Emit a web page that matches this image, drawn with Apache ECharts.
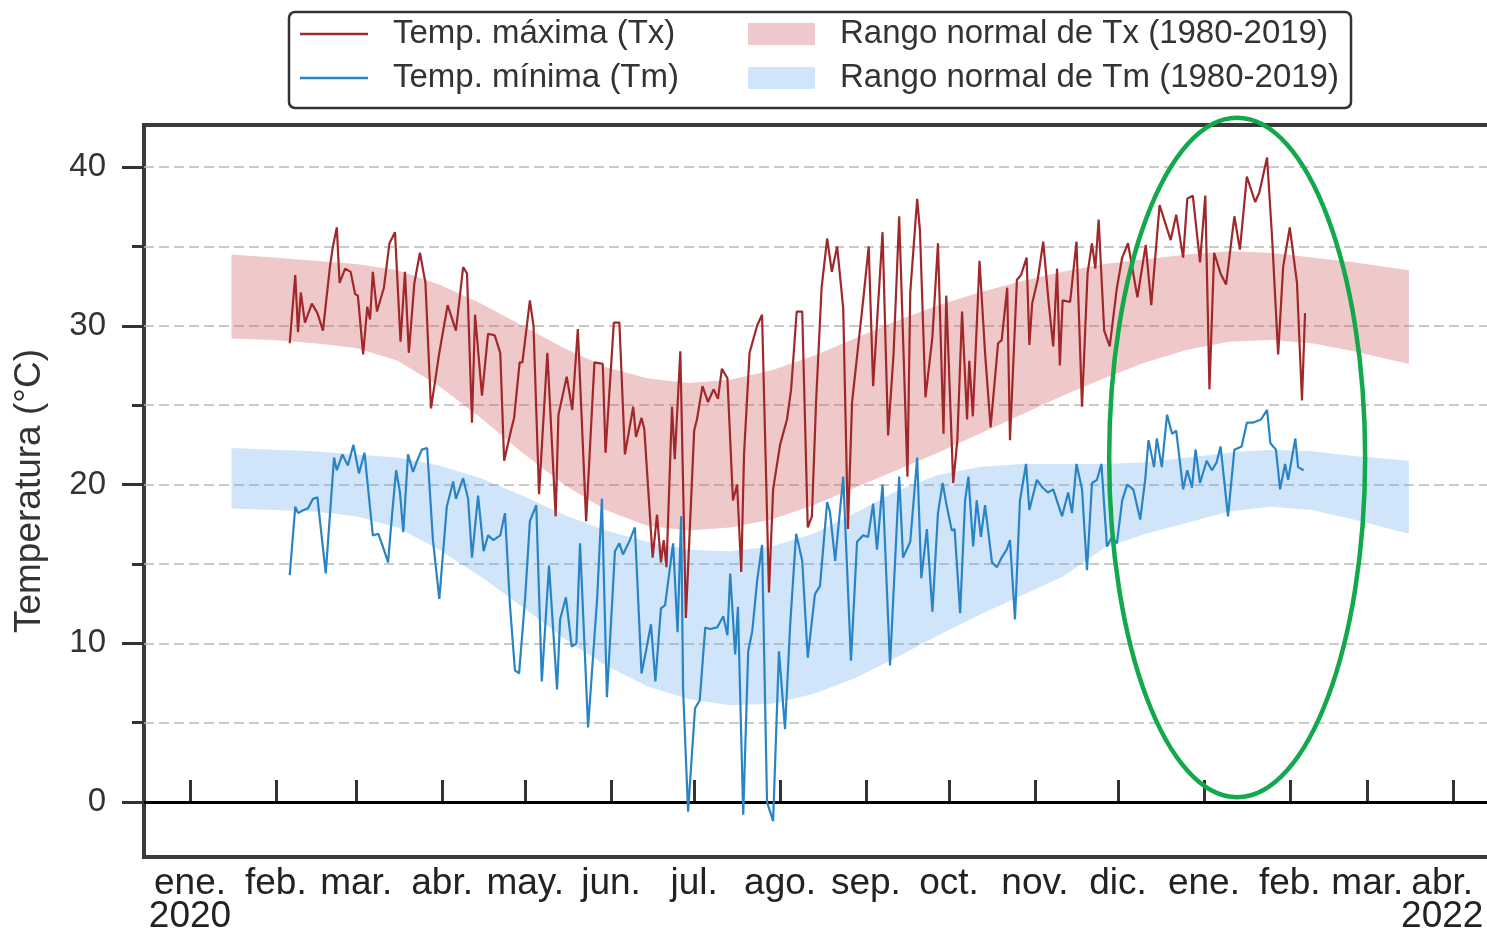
<!DOCTYPE html>
<html>
<head>
<meta charset="utf-8">
<script src="https://cdn.jsdelivr.net/npm/echarts@6/dist/echarts.min.js"></script>
<style>
html, body { margin: 0; padding: 0; background: #fff; }
#chart { width: 1487px; height: 928px; }
</style>
</head>
<body>
<div id="chart"></div>
<script>
var DAY = 86400000;
var T0 = Date.UTC(2020, 0, 1);   // day 0 of every day offset below

var monthNames = ['ene.', 'feb.', 'mar.', 'abr.', 'may.', 'jun.', 'jul.', 'ago.', 'sep.', 'oct.', 'nov.', 'dic.'];
var firstYear = '2020';
var lastYear = '2022';

// daily max temperature: [day offset, °C]
var txPoints = [
  [36,28.9],[38,33.2],[39,29.6],[40,32.1],[41.5,30.2],[44,31.4],[46,30.8],[48,29.7],[50.5,33.7],[51.6,35.0],
  [53,36.2],[54,32.7],[56,33.6],[58,33.4],[59.6,32.0],[60.6,31.9],[62.5,28.2],[64,31.2],[65,30.4],[66,33.4],
  [67.5,30.9],[70,32.4],[72,35.2],[74,35.9],[76,29.0],[77.6,33.4],[79,28.3],[81,32.7],[83,34.6],[85,32.7],
  [87,24.8],[90,28.3],[93,31.3],[96,29.7],[98.6,33.7],[100,33.3],[101.8,23.9],[102.9,30.7],[105.4,25.6],[107.6,29.5],
  [110,29.4],[112,28.3],[113.4,21.5],[116,23.5],[117,24.2],[119,27.7],[120,27.7],[122.7,31.6],[124,30.0],[126,19.4],
  [129,28.3],[132,18.0],[133,24.4],[136,26.8],[138,24.7],[140,29.8],[143,17.7],[146,27.7],[149,27.6],[150,22.0],
  [153,30.2],[155,30.2],[157,21.9],[160,24.9],[161,23.0],[163,24.2],[164,23.5],[167,15.4],[168.6,18.1],[170,15.1],
  [171,16.5],[172,14.8],[174,24.9],[175,21.6],[177,28.4],[179,11.6],[182,23.4],[183,24.1],[185,26.2],[187,25.2],
  [189,26.0],[190.6,25.4],[192,27.3],[194,26.7],[196,19.0],[197.5,20.0],[199,14.5],[200,21.9],[202,28.3],[204.7,30.0],
  [206.5,30.7],[209,13.2],[210.5,19.7],[213,22.5],[215.5,24.1],[217,26.0],[219,30.9],[221,30.9],[223,17.3],[224.5,18.0],
  [226,25.2],[228,32.4],[230,35.5],[231.7,33.4],[233.6,35.0],[235.8,31.1],[237.5,17.2],[239,25.2],[243,31.6],[245,35.0],
  [246.6,26.2],[250,35.9],[252,23.1],[254,28.3],[256,36.9],[259,20.5],[260,32.1],[262.5,38.0],[263.5,36.0],[265.5,25.5],
  [268,29.3],[270,35.2],[272,23.2],[273,31.9],[275.5,20.1],[277,22.8],[278.7,30.9],[280.5,24.1],[281.3,27.8],[282.6,24.3],
  [285,34.1],[287,28.3],[289,23.6],[291.7,28.9],[293,29.1],[295,32.4],[296,22.8],[298.5,32.9],[300,33.2],[302,34.3],
  [303,28.8],[304,31.4],[306,32.9],[308,35.3],[310,31.4],[311.6,28.7],[313,33.6],[314,27.5],[315,31.6],[317.7,31.5],
  [320,35.3],[322,24.9],[324,33.3],[325.6,35.2],[326.8,33.6],[328,36.7],[330,29.7],[332,28.7],[334.6,32.4],[336.5,34.3],
  [338.6,35.2],[342,31.8],[345,35.1],[347,31.3],[350,37.6],[354,35.4],[356,37.0],[358.5,34.3],[360,38.0],[362,38.2],
  [364.6,34.0],[366.5,38.2],[368,26.0],[369.7,34.6],[372,33.3],[374,32.6],[377,36.9],[379,34.8],[381.5,39.4],[384.5,37.8],
  [386,38.4],[388.8,40.6],[390.6,35.6],[392.8,28.2],[394.6,33.7],[397,36.2],[399.6,32.7],[401.4,25.3],[402.5,30.8]
];

// daily min temperature: [day offset, °C]
var tmPoints = [
  [36,14.3],[38,18.6],[39,18.2],[41,18.4],[42.6,18.5],[44.4,19.1],[46,19.2],[49,14.4],[52,21.7],[53,20.9],
  [55,21.9],[57,21.2],[59,22.5],[61,20.7],[63,22.0],[66,16.8],[68,16.9],[70,15.9],[71.5,15.1],[73,18.2],
  [74.4,20.9],[75.8,19.5],[77,17.0],[78.7,21.9],[80.5,20.8],[82,21.5],[83.7,22.2],[85.6,22.3],[87.7,16.5],[90,12.8],
  [92.7,18.6],[95,20.2],[96,19.1],[98.6,20.4],[100.4,19.1],[101.8,15.4],[104,19.3],[106,15.8],[107.6,16.8],[109.5,16.5],
  [112,16.8],[113.7,18.2],[115.5,12.4],[117.3,8.3],[118.8,8.1],[121,12.9],[122.7,17.7],[125,18.7],[127,7.6],[129.6,14.9],
  [132.5,7.1],[133.6,11.5],[135.7,12.9],[137.8,9.8],[139.5,10.0],[140.8,16.3],[143.7,4.7],[147,12.9],[148.7,19.1],[150.5,6.6],
  [153.4,15.8],[155,16.3],[156.3,15.6],[158.8,16.5],[160.6,17.3],[163,8.1],[164.6,9.5],[166.4,11.2],[168,7.6],[170,12.2],
  [171.5,12.4],[174.4,16.3],[176,10.7],[177.3,18.0],[178,7.1],[179.8,-0.6],[182.3,5.9],[184,6.4],[186,11.0],[187.7,10.9],
  [190.3,11.0],[192.5,11.7],[194,10.5],[195,14.4],[196.8,9.3],[197.8,12.3],[199.7,-0.8],[201.5,9.5],[203,10.8],[204.7,13.9],
  [206.5,16.2],[208.3,0.0],[210.5,-1.2],[212.6,9.5],[214.8,4.6],[216.6,11.0],[218.8,16.9],[221,15.2],[223,9.1],[225.6,13.1],
  [227.4,13.6],[230,18.9],[231,18.3],[232.9,15.2],[235.8,20.5],[238.6,8.9],[240.8,16.4],[243,16.8],[244.8,16.7],[246.6,18.8],
  [248,15.9],[250,20.0],[252.7,8.6],[256,20.5],[257.4,15.4],[260,16.4],[262.5,21.7],[264,14.1],[266,17.2],[268,12.0],
  [270,18.2],[271.7,20.1],[273,18.8],[275,17.1],[276,17.2],[278,11.9],[279.8,19.0],[281,20.5],[282.7,16.1],[284,19.0],
  [285.5,16.7],[287,18.7],[289.5,15.1],[291.3,14.8],[293,15.4],[294.8,15.9],[296,16.5],[297.8,11.5],[299.6,19.0],[301.8,21.3],
  [303,18.4],[305.7,20.3],[307.8,19.8],[309.7,19.5],[311.6,19.7],[314.8,18.0],[317,19.5],[318.4,18.2],[320,21.3],[322,19.7],
  [323.8,14.6],[325.6,20.1],[327.4,20.3],[329,21.3],[331,16.1],[332.8,16.7],[334.6,16.3],[336.5,19.0],[338.3,20.0],[340.5,19.7],
  [343,17.8],[344.8,20.3],[346,22.8],[348,21.1],[349,22.9],[350.8,21.1],[352.7,24.4],[354.5,23.2],[356,23.4],[358.5,19.7],
  [360,20.9],[361.7,19.8],[363,22.2],[364.6,20.1],[367,21.5],[368.9,20.9],[370.6,21.4],[372,22.4],[374.7,18.0],[377,22.2],
  [379.6,22.4],[381.5,23.9],[383.6,23.9],[386.6,24.1],[388.8,24.7],[390,22.6],[392,22.2],[393.5,19.7],[395.3,21.3],[396.4,20.3],
  [399,22.9],[400,21.1],[402,20.9]
];

// normal ranges 1980-2019
var normDays = [15, 30, 45, 60, 75, 90, 105, 120, 135, 150, 165, 180, 195, 210, 225, 240, 255, 270, 285, 300, 315, 330, 345, 360, 375, 390, 405, 420, 440];
var txNormLo = [29.2, 29.1, 28.9, 28.6, 27.8, 26.2, 24.2, 22.0, 20.0, 18.4, 17.4, 17.1, 17.3, 17.8, 18.7, 19.8, 20.9, 22.0, 23.2, 24.4, 25.6, 26.7, 27.7, 28.5, 29.0, 29.1, 28.9, 28.4, 27.6];
var txNormHi = [34.5, 34.3, 34.1, 33.9, 33.5, 32.6, 31.4, 30.0, 28.6, 27.4, 26.7, 26.4, 26.6, 27.2, 28.1, 29.2, 30.3, 31.3, 32.1, 32.8, 33.4, 33.9, 34.2, 34.5, 34.7, 34.6, 34.3, 34.0, 33.5];
var tmNormLo = [18.5, 18.4, 18.3, 18.0, 17.3, 15.9, 14.2, 12.3, 10.3, 8.6, 7.3, 6.5, 6.1, 6.2, 6.8, 7.8, 9.1, 10.5, 11.8, 13.0, 14.2, 16.0, 16.9, 17.6, 18.3, 18.6, 18.4, 17.8, 16.9];
var tmNormHi = [22.3, 22.2, 22.1, 21.9, 21.7, 21.2, 20.4, 19.3, 18.1, 17.1, 16.4, 15.9, 15.8, 16.1, 16.9, 18.2, 19.6, 20.6, 21.1, 21.3, 21.3, 21.3, 21.4, 21.7, 22.0, 22.2, 22.1, 21.8, 21.5];

var yLabelTicks = [0, 10, 20, 30, 40];
var yMinorTicks = [5, 15, 25, 35];
var gridValues = [5, 10, 15, 20, 25, 30, 35, 40];

// highlighted period: centre day, centre °C, half-width in days, half-height in °C
var ellipseSpec = [378, 21.7, 46.2, 21.4];

function toTime(d) { return T0 + d * DAY; }
function pts(list) { return list.map(function (p) { return [toTime(p[0]), p[1]]; }); }
function band(lo) { return normDays.map(function (d, i) { return [toTime(d), lo[i]]; }); }
function bandDiff(lo, hi) { return normDays.map(function (d, i) { return [toTime(d), +(hi[i] - lo[i]).toFixed(2)]; }); }

var txColor = '#a0282a';
var tmColor = '#2984c6';
var txBandColor = 'rgba(205,92,92,0.33)';
var tmBandColor = 'rgba(100,170,235,0.3)';
var FONT = '"Liberation Sans", Arial, sans-serif';

var dom = document.getElementById('chart');
var myChart = echarts.init(dom);

var option = {
  animation: false,
  useUTC: true,
  backgroundColor: '#fff',
  grid: {
    left: 144, right: -10, top: 125, bottom: 71,
    outerBoundsMode: 'none',
    containLabel: false,
    show: true, borderColor: '#3a3a3a', borderWidth: 4
  },
  legend: [
    {
      orient: 'vertical', left: 300, top: 16, padding: 0, itemGap: 8,
      icon: 'rect', itemWidth: 68, itemHeight: 2.5,
      textStyle: { fontFamily: FONT, fontSize: 33, lineHeight: 36, color: '#333', padding: [0, 0, 0, 20] },
      data: ['Temp. máxima (Tx)', 'Temp. mínima (Tm)']
    },
    {
      orient: 'vertical', left: 748, top: 16, padding: 0, itemGap: 8,
      icon: 'rect', itemWidth: 67, itemHeight: 22,
      textStyle: { fontFamily: FONT, fontSize: 33, lineHeight: 36, color: '#333', padding: [0, 0, 0, 20] },
      data: ['Rango normal de Tx (1980-2019)', 'Rango normal de Tm (1980-2019)']
    }
  ],
  graphic: [
    {
      id: 'legendBox', type: 'rect', z: 10, silent: true,
      shape: { x: 289, y: 12, width: 1062, height: 96, r: 6 },
      style: { fill: 'none', stroke: '#333', lineWidth: 2.5 }
    }
  ],
  xAxis: {
    type: 'time',
    min: toTime(-16.6),
    max: toTime(471.8),
    splitNumber: 16,
    minInterval: 28 * DAY,
    maxInterval: 31 * DAY,
    axisLine: { show: false },
    axisTick: { show: true, inside: true, length: 22, lineStyle: { color: '#333', width: 3 } },
    splitLine: { show: false },
    axisLabel: {
      hideOverlap: false,
      margin: 10,
      fontFamily: FONT, fontSize: 37, lineHeight: 33, color: '#222',
      rich: {
        last: { fontFamily: FONT, fontSize: 37, lineHeight: 33, color: '#222', padding: [0, 22, 0, 0] }
      },
      formatter: function (value) {
        var d = new Date(value);
        var m = d.getUTCMonth(), y = d.getUTCFullYear();
        var s = monthNames[m];
        if (y === 2020 && m === 0) s += '\n' + firstYear;
        if (y === 2021 && m === 3) s = '{last|' + s + '}\n{last|' + lastYear + '}';
        return s;
      }
    }
  },
  yAxis: [
    {
      type: 'value', min: -3.46, max: 42.65,
      name: 'Temperatura (°C)', nameLocation: 'middle', nameRotate: 90, nameGap: 96,
      nameTextStyle: { fontFamily: FONT, fontSize: 37, color: '#333' },
      axisLine: { show: false },
      axisTick: { show: true, length: 22, customValues: yLabelTicks, lineStyle: { color: '#333', width: 3 } },
      axisLabel: { customValues: yLabelTicks, margin: 38, fontFamily: FONT, fontSize: 33, color: '#333' },
      splitLine: { show: false }
    },
    {
      type: 'value', min: -3.46, max: 42.65, position: 'left',
      axisLine: { show: false },
      axisTick: { show: true, length: 12, customValues: yMinorTicks, lineStyle: { color: '#333', width: 3 } },
      axisLabel: { show: false },
      splitLine: { show: false }
    }
  ],
  series: [
    {
      name: 'txBase', type: 'line', stack: 'tx', symbol: 'none', silent: true,
      lineStyle: { width: 0, opacity: 0 },
      data: band(txNormLo),
      markLine: {
        silent: true, z: 1, symbol: ['none', 'none'], label: { show: false },
        lineStyle: { color: '#b8b8b8', type: [10, 5], width: 1.5 },
        data: gridValues.map(function (v) { return { yAxis: v }; })
      }
    },
    {
      name: 'Rango normal de Tx (1980-2019)', type: 'line', stack: 'tx', symbol: 'none', silent: true,
      color: txBandColor, itemStyle: { color: txBandColor },
      lineStyle: { width: 0, opacity: 0 },
      areaStyle: { color: txBandColor, opacity: 1 },
      data: bandDiff(txNormLo, txNormHi)
    },
    {
      name: 'tmBase', type: 'line', stack: 'tm', symbol: 'none', silent: true,
      lineStyle: { width: 0, opacity: 0 },
      data: band(tmNormLo)
    },
    {
      name: 'Rango normal de Tm (1980-2019)', type: 'line', stack: 'tm', symbol: 'none', silent: true,
      color: tmBandColor, itemStyle: { color: tmBandColor },
      lineStyle: { width: 0, opacity: 0 },
      areaStyle: { color: tmBandColor, opacity: 1 },
      data: bandDiff(tmNormLo, tmNormHi)
    },
    {
      name: 'Temp. mínima (Tm)', type: 'line', symbol: 'none', color: tmColor,
      lineStyle: { color: tmColor, width: 2.2 },
      data: pts(tmPoints),
      markLine: {
        silent: true, z: 3, symbol: ['none', 'none'], label: { show: false },
        lineStyle: { color: '#000', type: 'solid', width: 3 },
        data: [{ yAxis: 0 }]
      }
    },
    {
      name: 'Temp. máxima (Tx)', type: 'line', symbol: 'none', color: txColor,
      lineStyle: { color: txColor, width: 2.2 },
      data: pts(txPoints)
    }
  ]
};

myChart.setOption(option);

// green highlight ellipse placed in data coordinates
var c = myChart.convertToPixel({ gridIndex: 0 }, [toTime(ellipseSpec[0]), ellipseSpec[1]]);
var e = myChart.convertToPixel({ gridIndex: 0 }, [toTime(ellipseSpec[0] + ellipseSpec[2]), ellipseSpec[1] - ellipseSpec[3]]);
myChart.setOption({
  graphic: [{
    id: 'highlight', type: 'ellipse', z: 20, silent: true,
    shape: { cx: c[0], cy: c[1], rx: e[0] - c[0], ry: e[1] - c[1] },
    style: { fill: 'none', stroke: '#12a84b', lineWidth: 4.5 }
  }]
});
</script>
</body>
</html>
